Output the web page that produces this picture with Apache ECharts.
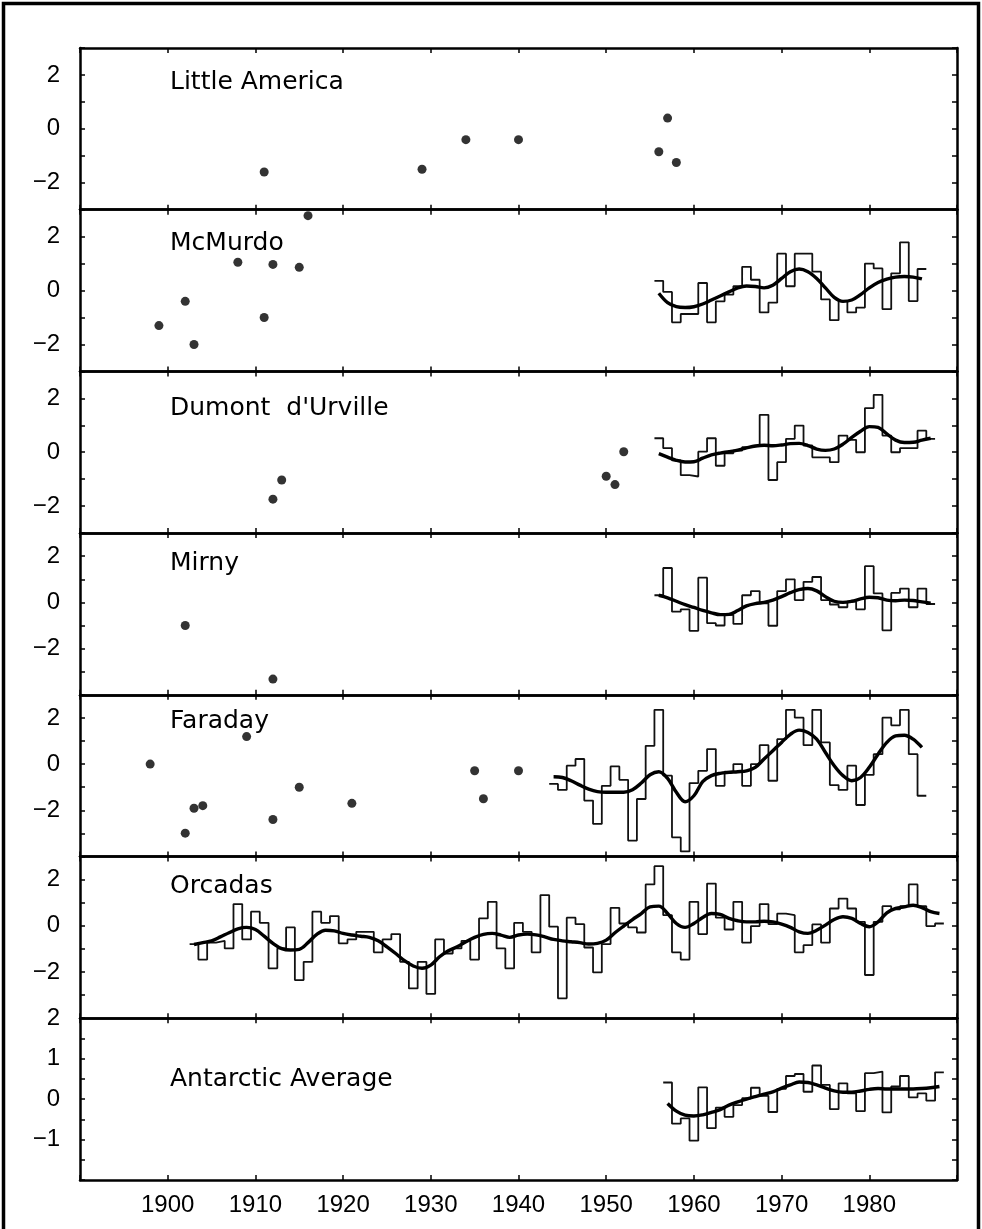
<!DOCTYPE html>
<html>
<head>
<meta charset="utf-8">
<script src="https://cdn.jsdelivr.net/npm/echarts@6/dist/echarts.min.js"></script>
<style>
  html, body { margin: 0; padding: 0; background: #fff; }
  #chart { width: 982px; height: 1229px; }
</style>
</head>
<body>
<div id="chart"></div>
<script>
// ---- Tick labels ----
const YEAR_TICK_LABELS = [1900, 1910, 1920, 1930, 1940, 1950, 1960, 1970, 1980];
const STATION_Y_LABELS = [2, 0, -2];
const AVERAGE_Y_LABELS = [2, 1, 0, -1];

// ---- Little America (isolated annual anomalies, °C) ----
const LA_DOT_YEARS  = [1911, 1929, 1934, 1940, 1956, 1957, 1958];
const LA_DOT_VALUES = [-1.6, -1.5, -0.4, -0.4, -0.85, 0.4, -1.25];

// ---- McMurdo ----
const MCM_DOT_YEARS  = [1899, 1902, 1903, 1908, 1911, 1912, 1915, 1916];
const MCM_DOT_VALUES = [-1.3, -0.4, -2.0, 1.05, -1.0, 0.97, 0.86, 2.78];
const MCM_START = 1956;
const MCM_ANNUAL = [0.36, -0.05, -1.18, -0.87, -0.87, 0.28, -1.18, -0.4, -0.15, 0.16,
  0.88, 0.4, -0.81, -0.45, 1.37, 0.16, 1.37, 1.37, 0.7, -0.33,
  -1.1, -0.39, -0.81, -0.63, 1.0, 0.82, -0.69, 0.64, 1.79, -0.39, 0.8];
const MCM_SMOOTH = [-0.1, -0.45, -0.6, -0.63, -0.6, -0.5, -0.35, -0.2, -0.05, 0.1,
  0.17, 0.15, 0.1, 0.2, 0.45, 0.7, 0.8, 0.7, 0.45, 0.1,
  -0.25, -0.4, -0.35, -0.15, 0.1, 0.3, 0.42, 0.5, 0.52, 0.5, 0.43];

// ---- Dumont d'Urville ----
const DDU_DOT_YEARS  = [1912, 1913, 1950, 1951, 1952];
const DDU_DOT_VALUES = [-1.74, -1.03, -0.89, -1.2, 0.02];
const DDU_START = 1956;
const DDU_ANNUAL = [0.52, 0.15, -0.3, -0.85, -0.9, 0.02, 0.52, -0.5, -0.04, 0.06,
  0.19, 0.25, 1.39, -1.03, -0.37, 0.5, 0.99, 0.25, -0.19, -0.19,
  -0.37, 0.62, 0.46, 0.0, 1.64, 2.13, 0.62, 0.0, 0.15, 0.15, 0.8, 0.5];
const DDU_SMOOTH = [-0.05, -0.18, -0.3, -0.36, -0.35, -0.22, -0.1, -0.03, 0.02, 0.08,
  0.16, 0.23, 0.26, 0.24, 0.27, 0.32, 0.33, 0.25, 0.12, 0.07,
  0.12, 0.3, 0.55, 0.78, 0.95, 0.92, 0.68, 0.45, 0.36, 0.37, 0.45, 0.52];

// ---- Mirny ----
const MIR_DOT_YEARS  = [1902, 1912];
const MIR_DOT_VALUES = [-1.0, -3.32];
const MIR_START = 1956;
const MIR_ANNUAL = [0.31, 1.49, -0.4, -0.3, -1.23, 1.07, -0.9, -1.0, -0.54, -0.93,
  0.31, 0.49, -0.04, -1.01, 0.49, 1.0, 0.1, 0.89, 1.1, 0.1,
  -0.09, -0.21, 0.03, -0.3, 1.57, 0.39, -1.21, 0.41, 0.6, -0.21, 0.6, -0.07];
const MIR_SMOOTH = [0.31, 0.2, 0.05, -0.1, -0.22, -0.35, -0.45, -0.53, -0.52, -0.35,
  -0.15, -0.05, 0.0, 0.1, 0.25, 0.42, 0.55, 0.6, 0.5, 0.25,
  0.05, 0.0, 0.05, 0.15, 0.22, 0.2, 0.1, 0.07, 0.1, 0.08, 0.02, -0.03];

// ---- Faraday ----
const FAR_DOT_YEARS  = [1898, 1902, 1903, 1904, 1909, 1912, 1915, 1921, 1935, 1936, 1940];
const FAR_DOT_VALUES = [0.0, -2.99, -1.91, -1.8, 1.19, -2.4, -1.0, -1.7, -0.29, -1.5, -0.29];
const FAR_START = 1944;
const FAR_ANNUAL = [-0.86, -1.12, -0.07, 0.22, -1.58, -2.59, -0.94, -0.1, -0.68, -3.31,
  -1.51, 0.79, 2.35, -0.5, -3.17, -3.78, -0.82, -0.29, 0.65, -0.94,
  -0.33, 0.0, -0.94, 0.0, 0.82, -0.72, 1.08, 2.35, 2.01, 0.82,
  2.35, 0.94, -0.91, -1.12, -0.07, -1.77, -0.47, 0.43, 2.01, 1.68,
  2.35, 0.43, -1.37];
const FAR_SMOOTH = [-0.55, -0.58, -0.72, -0.91, -1.08, -1.19, -1.22, -1.22, -1.22, -1.11,
  -0.82, -0.46, -0.33, -0.62, -1.22, -1.63, -1.37, -0.76, -0.5, -0.4,
  -0.36, -0.33, -0.29, -0.14, 0.22, 0.58, 0.94, 1.29, 1.47, 1.37,
  1.08, 0.5, -0.07, -0.5, -0.72, -0.58, -0.14, 0.43, 0.94, 1.22,
  1.25, 1.08, 0.72];

// ---- Orcadas ----
const ORC_START = 1903;
const ORC_ANNUAL = [-0.79, -1.46, -0.73, -0.65, -0.98, 0.94, -0.59, 0.61, 0.13, -1.84,
  -0.98, -0.07, -2.35, -1.56, 0.61, 0.13, 0.42, -0.76, -0.59, -0.26,
  -0.26, -1.15, -0.59, -0.36, -1.56, -2.71, -1.56, -2.95, -0.59, -1.2,
  -0.98, -0.65, -1.46, 0.32, 1.04, -0.98, -1.84, 0.13, -0.26, -1.15,
  1.33, -0.04, -3.14, 0.35, 0.07, -0.94, -2.02, -0.79, 0.78, 0.1,
  -0.07, -0.29, 1.79, 2.58, 0.46, -1.15, -1.46, 1.04, -0.36, 1.83,
  0.35, -0.16, 1.04, -0.73, -0.01, 0.94, 0.07, 0.53, 0.46, -1.15,
  -0.84, 0.06, -0.73, 0.75, 1.18, 0.75, 0.17, -2.13, 0.17, 0.85,
  0.71, 0.85, 1.79, 0.85, -0.01, 0.1];
const ORC_SMOOTH = [-0.81, -0.73, -0.65, -0.48, -0.3, -0.13, -0.07, -0.16, -0.45, -0.76,
  -0.99, -1.05, -1.02, -0.73, -0.37, -0.19, -0.22, -0.33, -0.4, -0.45,
  -0.5, -0.65, -0.91, -1.2, -1.51, -1.74, -1.84, -1.7, -1.34, -1.08,
  -0.91, -0.69, -0.5, -0.37, -0.33, -0.4, -0.5, -0.4, -0.36, -0.39,
  -0.48, -0.59, -0.65, -0.69, -0.73, -0.79, -0.76, -0.62, -0.3, -0.01,
  0.27, 0.53, 0.82, 0.85, 0.53, 0.1, -0.07, 0.1, 0.36, 0.53,
  0.49, 0.32, 0.22, 0.17, 0.17, 0.2, 0.17, 0.07, -0.07, -0.26,
  -0.33, -0.19, 0.03, 0.27, 0.39, 0.32, 0.1, -0.04, 0.17, 0.56,
  0.75, 0.82, 0.89, 0.79, 0.61, 0.53];

// ---- Antarctic average ----
const AVG_START = 1957;
const AVG_ANNUAL = [0.41, -0.61, -0.48, -1.03, 0.29, -0.72, -0.21, -0.44, -0.15, 0.02,
  0.28, 0.08, -0.32, 0.25, 0.57, 0.62, 0.18, 0.83, 0.35, -0.25,
  0.39, 0.14, -0.3, 0.64, 0.68, -0.33, 0.31, 0.57, 0.04, 0.14, -0.04, 0.66];
const AVG_SMOOTH = [-0.11, -0.3, -0.4, -0.42, -0.39, -0.33, -0.26, -0.15, -0.07, 0.0,
  0.06, 0.12, 0.18, 0.27, 0.35, 0.42, 0.41, 0.35, 0.27, 0.2,
  0.17, 0.17, 0.2, 0.24, 0.26, 0.25, 0.25, 0.25, 0.25, 0.26, 0.28, 0.31];

// ---- helpers turning the arrays into plotted points ----
function pairs(xs, ys) { return xs.map((x, i) => [x, ys[i]]); }
function yearly(start, vals) { return vals.map((v, i) => [start + i, v]); }
// each annual value is drawn as a flat step spanning its whole year
function yearSteps(start, vals) {
  const pts = vals.map((v, i) => [start + i - 0.5, v]);
  pts.push([start + vals.length - 0.5, vals[vals.length - 1]]);
  return pts;
}
function minusLabel(v) { return v < 0 ? '\u2212' + Math.abs(v) : String(v); }

const panels = [
  { title: 'Little America', min: -3, max: 3, step: 1, labels: STATION_Y_LABELS, titleDy: 34,
    dots: pairs(LA_DOT_YEARS, LA_DOT_VALUES) },
  { title: 'McMurdo', min: -3, max: 3, step: 1, labels: STATION_Y_LABELS, titleDy: 34,
    dots: pairs(MCM_DOT_YEARS, MCM_DOT_VALUES),
    steps: yearSteps(MCM_START, MCM_ANNUAL), smooth: yearly(MCM_START, MCM_SMOOTH) },
  { title: "Dumont  d'Urville", min: -3, max: 3, step: 1, labels: STATION_Y_LABELS, titleDy: 37,
    dots: pairs(DDU_DOT_YEARS, DDU_DOT_VALUES),
    steps: yearSteps(DDU_START, DDU_ANNUAL), smooth: yearly(DDU_START, DDU_SMOOTH) },
  { title: 'Mirny', min: -4, max: 3, step: 1, labels: STATION_Y_LABELS, titleDy: 30,
    dots: pairs(MIR_DOT_YEARS, MIR_DOT_VALUES),
    steps: yearSteps(MIR_START, MIR_ANNUAL), smooth: yearly(MIR_START, MIR_SMOOTH) },
  { title: 'Faraday', min: -4, max: 3, step: 1, labels: STATION_Y_LABELS, titleDy: 27,
    dots: pairs(FAR_DOT_YEARS, FAR_DOT_VALUES),
    steps: yearSteps(FAR_START, FAR_ANNUAL), smooth: yearly(FAR_START, FAR_SMOOTH) },
  { title: 'Orcadas', min: -4, max: 3, step: 1, labels: STATION_Y_LABELS, titleDy: 30,
    steps: yearSteps(ORC_START, ORC_ANNUAL), smooth: yearly(ORC_START, ORC_SMOOTH) },
  { title: 'Antarctic Average', min: -2, max: 2, step: 0.5, labels: AVERAGE_Y_LABELS, titleDy: 61,
    steps: yearSteps(AVG_START, AVG_ANNUAL), smooth: yearly(AVG_START, AVG_SMOOTH) }
];

// ---- layout ----
const PLOT_LEFT = 80, PLOT_RIGHT = 957, PLOT_TOP = 48, PANEL_H = 161.7;
const FRAME = { color: '#000', width: 2.5 };
const TICK = { show: true, inside: true, length: 5, lineStyle: { color: '#000', width: 1.5 } };
const TICK_FONT = "'Liberation Sans Narrow', 'Liberation Sans', sans-serif";
const TITLE_FONT = "'DejaVu Sans', sans-serif";

const grids = [], xAxes = [], yAxes = [], series = [], graphics = [];

panels.forEach((p, i) => {
  const top = PLOT_TOP + i * PANEL_H;
  const last = i === panels.length - 1;
  grids.push({ left: PLOT_LEFT, width: PLOT_RIGHT - PLOT_LEFT, top: top, height: PANEL_H, show: false });

  ['bottom', 'top'].forEach(pos => {
    xAxes.push({
      gridIndex: i, type: 'value', position: pos, min: 1890, max: 1990, interval: 10,
      axisLine: { show: true, onZero: false, lineStyle: FRAME },
      axisTick: TICK,
      splitLine: { show: false },
      axisLabel: {
        show: last && pos === 'bottom', margin: 13,
        color: '#000', fontSize: 24, fontFamily: TICK_FONT,
        formatter: v => YEAR_TICK_LABELS.includes(v) ? String(v) : ''
      }
    });
  });
  ['left', 'right'].forEach(pos => {
    yAxes.push({
      gridIndex: i, type: 'value', position: pos, min: p.min, max: p.max, interval: p.step,
      axisLine: { show: true, onZero: false, lineStyle: FRAME },
      axisTick: TICK,
      splitLine: { show: false },
      axisLabel: {
        show: pos === 'left', margin: 20,
        color: '#000', fontSize: 24, fontFamily: TICK_FONT,
        formatter: v => p.labels.includes(v) ? minusLabel(v) : ''
      }
    });
  });

  if (p.steps) {
    series.push({
      name: p.title + ' annual', type: 'line', xAxisIndex: 2 * i, yAxisIndex: 2 * i,
      data: p.steps, step: 'end', symbol: 'none',
      lineStyle: { color: '#111', width: 1.8 }, z: 3, animation: false
    });
    series.push({
      name: p.title + ' smoothed', type: 'line', xAxisIndex: 2 * i, yAxisIndex: 2 * i,
      data: p.smooth, smooth: 0.35, symbol: 'none',
      lineStyle: { color: '#000', width: 3.4 }, z: 4, animation: false
    });
  }
  if (p.dots) {
    series.push({
      name: p.title + ' early', type: 'scatter', xAxisIndex: 2 * i, yAxisIndex: 2 * i,
      data: p.dots, symbol: 'circle', symbolSize: 9,
      itemStyle: { color: '#000' }, z: 5, animation: false
    });
  }

  graphics.push({
    type: 'text', x: 170, y: top + p.titleDy, z: 10,
    style: { text: p.title, fill: '#000', fontSize: 25, fontFamily: TITLE_FONT,
             align: 'left', verticalAlign: 'middle' }
  });
});

// outer border of the figure
graphics.push({
  type: 'rect', z: 20,
  shape: { x: 3.5, y: 3.5, width: 975, height: 1240 },
  style: { fill: 'none', stroke: '#000', lineWidth: 3.5 }
});

const chart = echarts.init(document.getElementById('chart'), null, { renderer: 'canvas' });
chart.setOption({
  animation: false,
  backgroundColor: '#fff',
  grid: grids,
  xAxis: xAxes,
  yAxis: yAxes,
  series: series,
  graphic: { elements: graphics }
});
</script>
</body>
</html>
